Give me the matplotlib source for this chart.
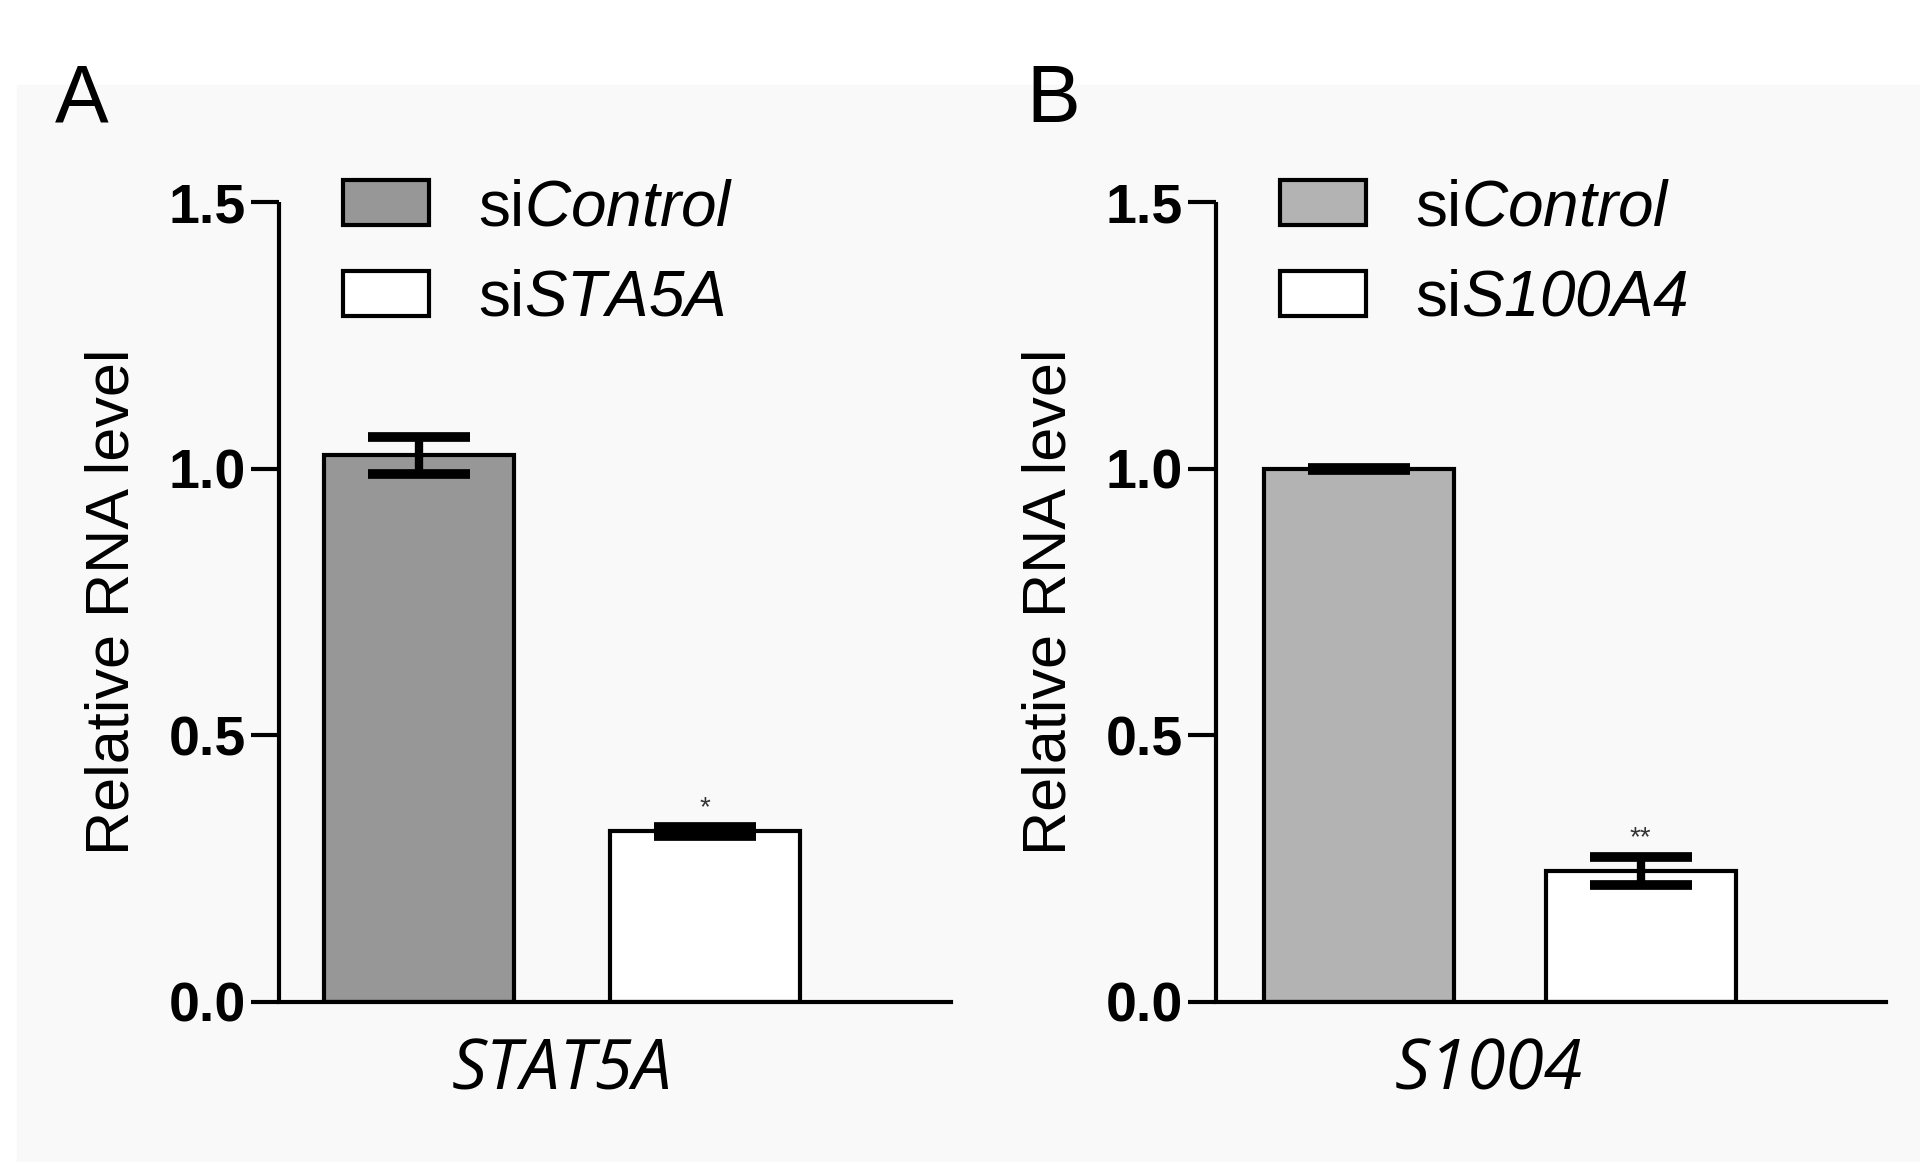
import numpy as np
import matplotlib
matplotlib.use('Agg')
import matplotlib.pyplot as plt
from matplotlib.patches import Patch, Rectangle

plt.rcParams['font.family'] = ['Liberation Sans', 'DejaVu Sans']
plt.rcParams['mathtext.fontset'] = 'custom'
plt.rcParams['mathtext.rm'] = 'Liberation Sans'
# \mathsf is mapped to the italic face so digits get slanted too
plt.rcParams['mathtext.sf'] = 'Liberation Sans:italic'

#========================= Data =========================
panel_letters = ['A', 'B']
genes = ['STAT5A', 'S1004']
legend_labels = [['si$\\mathsf{Control}$', 'si$\\mathsf{STA5A}$'],
                 ['si$\\mathsf{Control}$', 'si$\\mathsf{S100A4}$']]
means_A = [1.025, 0.32]
errs_A = [0.035, 0.008]
means_B = [1.0, 0.246]
errs_B = [0.002, 0.026]
stars = ['*', '**']
yticks = [0.0, 0.5, 1.0, 1.5]
ctrl_colors = ['#979797', '#b3b3b3']

means = [means_A, means_B]
errs = [errs_A, errs_B]

#========================= Figure =============================================
fig = plt.figure(figsize=(19.2, 11.62), dpi=100, facecolor='white')
fig.patches.append(Rectangle((17 / 1920, 0), 1, 1 - 85 / 1162,
                             transform=fig.transFigure, color='#f9f9f9',
                             zorder=-10))

# axes boxes in pixels: (left, right), bottom/top shared
ax_px = [(279, 951), (1216, 1886)]
bar_px = [((324, 514), (610, 800)), ((1264, 1453), (1545, 1736))]
legend_px = [(343, 178), (1280, 178)]
letter_px = [55, 1026]
gene_pos = [0.5, 0.46]
y0_px, y15_px = 1002, 202
W, H = 1920, 1162

for i in range(2):
    l, r = ax_px[i]
    ax = fig.add_axes([l / W, 1 - y0_px / H, (r - l) / W, (y0_px - y15_px) / H])
    ax.patch.set_alpha(0)

    # map bar pixel positions onto x = 0, 1
    (b1l, b1r), (b2l, b2r) = bar_px[i]
    c1, c2 = (b1l + b1r) / 2, (b2l + b2r) / 2
    sp = c2 - c1
    width = ((b1r - b1l) + (b2r - b2l)) / 2 / sp
    ax.set_xlim(-(c1 - l) / sp, 1 + (r - c2) / sp)
    ax.set_ylim(0, 1.5)

    x = np.arange(2)
    ax.bar(x, means[i], width=width, color=[ctrl_colors[i], 'white'],
           edgecolor='black', linewidth=3, zorder=2)
    ax.errorbar(x, means[i], yerr=errs[i], fmt='none', ecolor='black',
                elinewidth=6, capsize=37, capthick=7, zorder=3)
    ax.text(1, means[i][1] + errs[i][1] + 0.035, stars[i], ha='center',
            va='center', fontsize=20, color='#333333')

    for s in ['top', 'right']:
        ax.spines[s].set_visible(False)
    ax.spines['left'].set_linewidth(3)
    ax.spines['bottom'].set_linewidth(3)
    ax.spines['left'].set_capstyle('butt')

    ax.set_yticks(yticks)
    ax.set_yticklabels(['%.1f' % v for v in yticks], fontsize=40,
                       fontweight='bold')
    ax.tick_params(axis='y', length=20, width=3, pad=4)

    ax.set_xticks([gene_pos[i]])
    ax.set_xticklabels([genes[i]], fontsize=50, style='italic',
                       family='Open Sans')
    ax.tick_params(axis='x', length=0, pad=25)

    ax.set_ylabel('Relative RNA level', fontsize=44)
    ax.yaxis.set_label_coords(-0.205, 0.5)

    handles = [Patch(facecolor=ctrl_colors[i], edgecolor='black', linewidth=3),
               Patch(facecolor='white', edgecolor='black', linewidth=3)]
    lx, ly = legend_px[i]
    ax.legend(handles, legend_labels[i], loc='upper left',
              bbox_to_anchor=(lx / W, 1 - ly / H), bbox_transform=fig.transFigure,
              frameon=False, fontsize=46, handlelength=1.35, handleheight=0.72,
              handletextpad=0.77, labelspacing=0.48, borderpad=0,
              borderaxespad=0)

    fig.text(letter_px[i] / W, 1 - 122 / H, panel_letters[i], fontsize=58,
             va='baseline', ha='left')

fig.savefig('out.png', dpi=100, facecolor=fig.get_facecolor())
